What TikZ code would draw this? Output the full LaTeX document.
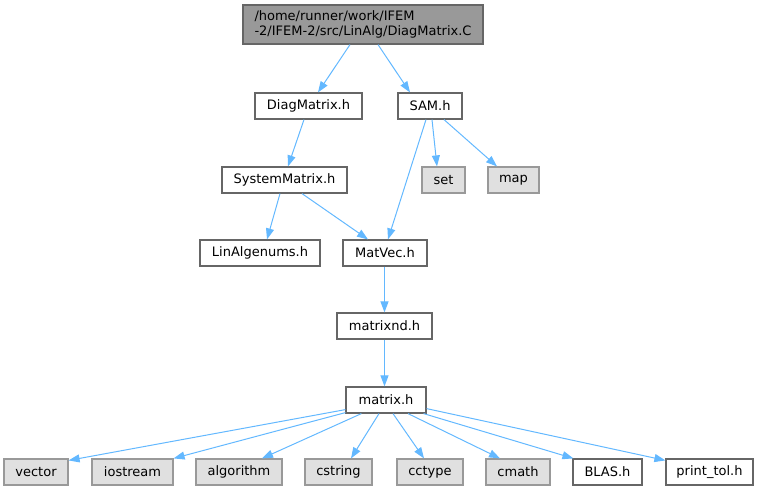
\documentclass[tikz,border=0pt]{standalone}
\usepackage{fontspec}
\setmainfont{DejaVu Sans}
\usetikzlibrary{arrows.meta,calc}
\definecolor{edgeblue}{HTML}{63B8FF}
\definecolor{rootfill}{HTML}{999999}
\definecolor{darkborder}{HTML}{666666}
\definecolor{extfill}{HTML}{E0E0E0}
\definecolor{extborder}{HTML}{999999}
\tikzset{
  box/.style={draw=darkborder, fill=white, line width=1.2pt, rectangle, inner sep=0pt,
    minimum height=26pt, font=\fontsize{13}{15}\selectfont, text=black},
  rootbox/.style={box, fill=rootfill, minimum height=39pt, minimum width=240pt, align=left},
  extbox/.style={box, draw=extborder, fill=extfill},
  edge/.style={draw=edgeblue, line width=1pt, -{Triangle[length=11pt,width=8pt]}}
}
\begin{document}
\begin{tikzpicture}[x=1pt,y=-1pt]
\useasboundingbox (0,0) rectangle (759,491);
% nodes
\node[rootbox] (root) at (363,24.5) {/home/runner/work/IFEM\\-2/IFEM-2/src/LinAlg/DiagMatrix.C};
\node[box, minimum width=107pt] (diag) at (308.5,106) {DiagMatrix.h};
\node[box, minimum width=64pt] (sam) at (430,106) {SAM.h};
\node[box, minimum width=125pt] (sys) at (284.5,180) {SystemMatrix.h};
\node[extbox, minimum width=43pt] (set) at (443.5,180) {set};
\node[extbox, minimum width=51pt] (map) at (513.5,180) {map};
\node[box, minimum width=120pt] (lin) at (260,253) {LinAlgenums.h};
\node[box, minimum width=84pt] (matvec) at (385,253) {MatVec.h};
\node[box, minimum width=95pt] (mnd) at (384.5,326) {matrixnd.h};
\node[box, minimum width=80pt] (mat) at (386,400) {matrix.h};
\node[extbox, minimum width=64pt] (vector) at (36,472) {vector};
\node[extbox, minimum width=81pt] (iostream) at (132.5,472) {iostream};
\node[extbox, minimum width=86pt] (algorithm) at (239,472) {algorithm};
\node[extbox, minimum width=67pt] (cstring) at (338.5,472) {cstring};
\node[extbox, minimum width=66pt] (cctype) at (430,472) {cctype};
\node[extbox, minimum width=64pt] (cmath) at (518,472) {cmath};
\node[box, minimum width=69pt] (blas) at (607.5,472) {BLAS.h};
\node[box, minimum width=87pt] (ptol) at (709.5,472) {print\_tol.h};
% edges
\draw[edge] ($(root.south)+(-13,0)$) -- ($(diag.north)+(9.5,0)$);
\draw[edge] ($(root.south)+(15,0)$) -- ($(sam.north)+(-20,0)$);
\draw[edge] ($(diag.south)+(-4.5,0)$) -- ($(sys.north)+(3.5,0)$);
\draw[edge] ($(sam.south)+(-4,0)$) -- ($(matvec.north)+(3,0)$);
\draw[edge] ($(sam.south)+(2,0)$) -- ($(set.north)+(-6.5,0)$);
\draw[edge] ($(sam.south)+(14,0)$) -- ($(map.north)+(-16.5,0)$);
\draw[edge] ($(sys.south)+(-4.5,0)$) -- ($(lin.north)+(7,0)$);
\draw[edge] ($(sys.south)+(17.5,0)$) -- ($(matvec.north)+(-17,0)$);
\draw[edge] ($(matvec.south)+(-0.5,0)$) -- (mnd.north);
\draw[edge] (mnd.south) -- ($(mat.north)+(-1.5,0)$);
\draw[edge] ($(mat.south west)+(0,-4)$) -- ($(vector.north east)+(0,2)$);
\draw[edge] ($(mat.south west)+(0,-1)$) -- (iostream.north east);
\draw[edge] ($(mat.south west)+(16,0)$) -- ($(algorithm.north)+(23,0)$);
\draw[edge] ($(mat.south)+(-7,0)$) -- ($(cstring.north)+(12.5,0)$);
\draw[edge] ($(mat.south)+(7,0)$) -- ($(cctype.north)+(-6,0)$);
\draw[edge] ($(mat.south)+(22,0)$) -- ($(cmath.north)+(-18,0)$);
\draw[edge] ($(mat.south east)+(-3,0)$) -- ($(blas.north west)+(1,0)$);
\draw[edge] ($(mat.south east)+(0,-5)$) -- ($(ptol.north west)+(0,2)$);
\end{tikzpicture}
\end{document}
